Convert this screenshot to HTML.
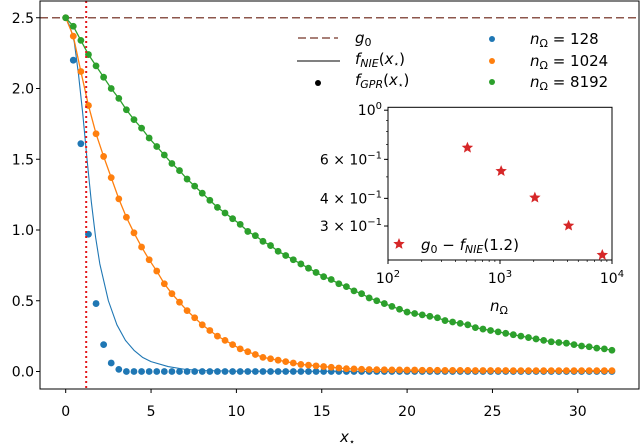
<!DOCTYPE html>
<html><head><meta charset="utf-8"><style>
html,body{margin:0;padding:0;background:#fff;}
svg{display:block;font-family:"DejaVu Sans","Liberation Sans",sans-serif;}
</style></head><body>
<svg id="chart" width="640" height="444" viewBox="0 0 640 444" xmlns="http://www.w3.org/2000/svg">
<g id="main"></g>
<g id="inset"></g>
</svg>
<script>
// ---- main chart data ----
const nPts = 73;
const xMax = 32;
const blueVals = [2.5,2.2,1.61,0.97,0.48,0.19,0.06,0.015];
const orangeVals = [2.5,2.37,2.12,1.88,1.68,1.52,1.37,1.22,1.09,0.98,0.88,0.79,0.71,0.62,0.55,0.49,0.43,0.38,0.33,0.29,0.25,0.22,0.19,0.16,0.14,0.12,0.10,0.09,0.08,0.07,0.06,0.05,0.045,0.04,0.035,0.03,0.025,0.02,0.018,0.016,0.014,0.013,0.012,0.011,0.011,0.010,0.010,0.009,0.009,0.009,0.008,0.008,0.008,0.008,0.007,0.007,0.007,0.007,0.007,0.006,0.006,0.006,0.006,0.006,0.006,0.006,0.006,0.006,0.006,0.006,0.006,0.006,0.006];
const greenVals = [2.5,2.44,2.34,2.24,2.16,2.08,2.0,1.93,1.85,1.78,1.72,1.65,1.59,1.53,1.47,1.42,1.36,1.31,1.26,1.21,1.16,1.12,1.08,1.04,0.99,0.96,0.92,0.89,0.85,0.82,0.79,0.76,0.73,0.70,0.67,0.65,0.62,0.60,0.57,0.55,0.52,0.50,0.48,0.46,0.44,0.42,0.41,0.40,0.39,0.38,0.36,0.35,0.34,0.33,0.31,0.30,0.29,0.28,0.27,0.26,0.25,0.24,0.23,0.22,0.21,0.205,0.20,0.19,0.18,0.175,0.165,0.16,0.15];
const nieX = [0,0.25,0.5,0.75,1.0,1.25,1.5,1.75,2.0,2.5,3,3.5,4,4.5,5,6,7,8,10,32];
const nieY = [2.5,2.44,2.33,2.1,1.82,1.5,1.2,0.95,0.76,0.5,0.33,0.22,0.15,0.1,0.07,0.035,0.015,0.007,0.002,0];
const g0 = 2.5;
const xStar = 1.2;
const xTicks = [0,5,10,15,20,25,30];
const yTicks = [0,0.5,1.0,1.5,2.0,2.5];
const yTickLabels = ["0.0","0.5","1.0","1.5","2.0","2.5"];
// ---- inset data ----
const insetN = [512,1024,2048,4096,8192];
const insetVals = [0.677,0.531,0.403,0.301,0.222];
const insetYTicks = [1.0,0.6,0.4,0.3];
const insetYLabels = ["10<tspan dy='-6' font-size='10'>0</tspan>","6 × 10<tspan dy='-6' font-size='10'>−1</tspan>","4 × 10<tspan dy='-6' font-size='10'>−1</tspan>","3 × 10<tspan dy='-6' font-size='10'>−1</tspan>"];
const insetXTicks = [100,1000,10000];
const insetXLabels = ["10<tspan dy='-6' font-size='10'>2</tspan>","10<tspan dy='-6' font-size='10'>3</tspan>","10<tspan dy='-6' font-size='10'>4</tspan>"];

const NS = "http://www.w3.org/2000/svg";
const L = 40, R = 639, T = 1, B = 389;
const sx = v => 65.7 + v * 17.07;
const sy = v => 371.5 - v * 141.5;
const xs = i => i * xMax / (nPts - 1);

function mk(tag, attrs, parent, text) {
  const e = document.createElementNS(NS, tag);
  for (const k in attrs) e.setAttribute(k, attrs[k]);
  if (text !== undefined) e.innerHTML = text;
  parent.appendChild(e);
  return e;
}
const main = document.getElementById('main');
const inset = document.getElementById('inset');

function polyline(vals, color, name) {
  const pts = vals.map((v, i) => sx(xs(i)).toFixed(2) + ',' + sy(v).toFixed(2)).join(' ');
  const p = mk('polyline', {points: pts, fill: 'none', stroke: color, 'stroke-width': 1.3}, main);
  
  
}
function dots(vals, color, name) {
  const full = [];
  for (let i = 0; i < nPts; i++) full.push(i < vals.length ? vals[i] : 0);
  full.forEach((v, i) => {
    const c = mk('circle', {cx: sx(xs(i)), cy: sy(v), r: 3.4, fill: color}, main);
    
    
  });
}
const gl = mk('line', {x1: L, x2: R, y1: sy(g0), y2: sy(g0), stroke: '#8c564b', 'stroke-width': 1.6, 'stroke-dasharray': '8,4'}, main);


const nl = mk('polyline', {points: nieX.map((x, i) => sx(x) + ',' + sy(nieY[i])).join(' '), fill: 'none', stroke: '#1f77b4', 'stroke-width': 1.1, 'stroke-linejoin': 'round'}, main);


polyline(orangeVals, '#ff7f0e', 'nie-line-1024');
polyline(greenVals, '#2ca02c', 'nie-line-8192');
dots(blueVals, '#1f77b4', 'gpr-point-128');
dots(orangeVals, '#ff7f0e', 'gpr-point-1024');
dots(greenVals, '#2ca02c', 'gpr-point-8192');
const vl = mk('line', {x1: sx(xStar), x2: sx(xStar), y1: T, y2: B, stroke: '#e4161b', 'stroke-width': 2, 'stroke-dasharray': '2,3'}, main);



const fr = mk('rect', {x: L, y: T, width: R - L, height: B - T, fill: 'none', stroke: '#000', 'stroke-width': 1}, main);


xTicks.forEach(t => {
  mk('line', {x1: sx(t), x2: sx(t), y1: B, y2: B + 4, stroke: '#000'}, main);
  const tx = mk('text', {x: sx(t), y: 416, 'text-anchor': 'middle', 'font-size': 14}, main, String(t));
  
  
});
yTicks.forEach((t, i) => {
  mk('line', {x1: L - 4, x2: L, y1: sy(t), y2: sy(t), stroke: '#000'}, main);
  const tx = mk('text', {x: 34, y: sy(t) + 5, 'text-anchor': 'end', 'font-size': 14}, main, yTickLabels[i]);
  
  
});
const xt = mk('text', {x: 340, y: 442, 'font-size': 15, 'font-style': 'italic'}, main, "x<tspan dy='3' font-size='10' font-style='normal'>⋆</tspan>");



const lg = mk('g', {}, main);


mk('line', {x1: 298, x2: 338, y1: 38, y2: 38, stroke: '#8c564b', 'stroke-width': 1.6, 'stroke-dasharray': '8,4'}, lg);
mk('line', {x1: 297, x2: 340, y1: 61, y2: 61, stroke: '#000', 'stroke-width': 1}, lg);
mk('circle', {cx: 318, cy: 83, r: 3, fill: '#000'}, lg);
mk('text', {x: 355, y: 43, 'font-size': 15}, lg, "<tspan font-style='italic'>g</tspan><tspan dy='3' font-size='11'>0</tspan>");
mk('text', {x: 355, y: 64, 'font-size': 15}, lg, "<tspan font-style='italic'>f</tspan><tspan dy='3' font-size='11' font-style='italic'>NIE</tspan><tspan dy='-3'>(</tspan><tspan font-style='italic'>x</tspan><tspan dy='3' font-size='9'>⋆</tspan><tspan dy='-3'>)</tspan>");
mk('text', {x: 355, y: 85, 'font-size': 15}, lg, "<tspan font-style='italic'>f</tspan><tspan dy='3' font-size='11' font-style='italic'>GPR</tspan><tspan dy='-3'>(</tspan><tspan font-style='italic'>x</tspan><tspan dy='3' font-size='9'>⋆</tspan><tspan dy='-3'>)</tspan>");
[['#1f77b4', '128', 40], ['#ff7f0e', '1024', 62], ['#2ca02c', '8192', 83]].forEach(r => {
  mk('circle', {cx: 492, cy: r[2] - 1, r: 3, fill: r[0]}, lg);
  mk('text', {x: 530, y: r[2] + 4, 'font-size': 15}, lg, "<tspan font-style='italic'>n</tspan><tspan dy='3' font-size='11'>Ω</tspan><tspan dy='-3'> = " + r[1] + "</tspan>");
});

const iL = 388, iR = 612, iT = 107.3, iB = 260;
const ix = v => iL + (Math.log10(v) - 2) * 112;
const iy = v => 110.2 - Math.log10(v) * 221.5;
const ib = mk('rect', {x: iL, y: iT, width: iR - iL, height: iB - iT, fill: '#fff', stroke: '#000', 'stroke-width': 1}, inset);


insetXTicks.forEach((t, i) => {
  mk('line', {x1: ix(t), x2: ix(t), y1: iB, y2: iB + 4, stroke: '#000'}, inset);
  const tx = mk('text', {x: ix(t), y: 283, 'text-anchor': 'middle', 'font-size': 14}, inset, insetXLabels[i]);
  
  
});
for (let d = 2; d < 4; d++) for (let m = 2; m < 10; m++) {
  const p = ix(m * Math.pow(10, d));
  mk('line', {x1: p, x2: p, y1: iB, y2: iB + 2, stroke: '#000', 'stroke-width': 0.7}, inset);
}
[0.3, 0.4, 0.5, 0.6, 0.7, 0.8, 0.9].forEach(v => {
  mk('line', {x1: iL - 2, x2: iL, y1: iy(v), y2: iy(v), stroke: '#000', 'stroke-width': 0.7}, inset);
});
insetYTicks.forEach((t, i) => {
  mk('line', {x1: iL - 4, x2: iL, y1: iy(t), y2: iy(t), stroke: '#000'}, inset);
  const tx = mk('text', {x: 382, y: iy(t) + 5, 'text-anchor': 'end', 'font-size': 14}, inset, insetYLabels[i]);
  
  
});
const nt = mk('text', {x: 490, y: 311, 'font-size': 15}, inset, "<tspan font-style='italic'>n</tspan><tspan dy='3' font-size='11'>Ω</tspan>");


function star(cx, cy, r) {
  let p = [];
  for (let k = 0; k < 10; k++) {
    const a = -Math.PI / 2 + k * Math.PI / 5;
    const rr = k % 2 ? r * 0.45 : r;
    p.push((cx + rr * Math.cos(a)).toFixed(2) + ',' + (cy + rr * Math.sin(a)).toFixed(2));
  }
  return p.join(' ');
}
insetN.forEach((n, i) => {
  const s = mk('polygon', {points: star(ix(n), iy(insetVals[i]), 6), fill: '#d62728'}, inset);
  
  
});
mk('polygon', {points: star(399, 244, 6), fill: '#d62728'}, inset);
const il = mk('text', {x: 421, y: 250, 'font-size': 15}, inset, "<tspan font-style='italic'>g</tspan><tspan dy='3' font-size='11'>0</tspan><tspan dy='-3'> − </tspan><tspan font-style='italic'>f</tspan><tspan dy='3' font-size='11' font-style='italic'>NIE</tspan><tspan dy='-3'>(1.2)</tspan>");


</script>
</body></html>
